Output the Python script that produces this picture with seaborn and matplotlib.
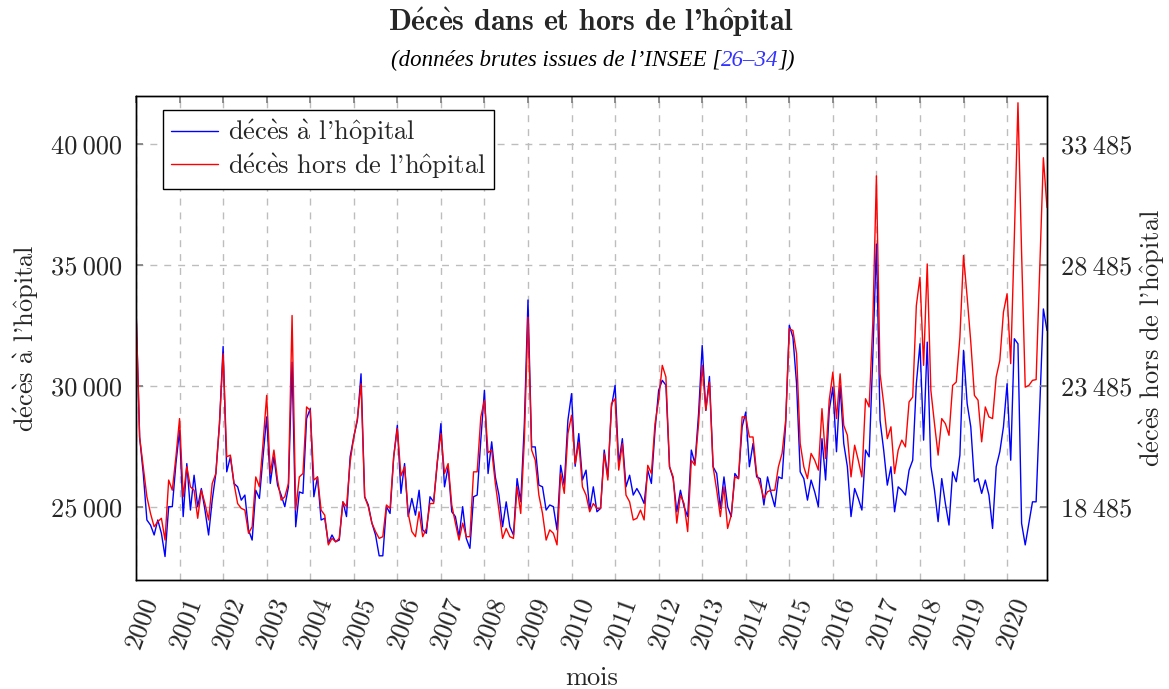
import numpy as np
import pandas as pd
import matplotlib
matplotlib.use("Agg")
import matplotlib.pyplot as plt
import matplotlib.ticker as mticker
import matplotlib.transforms as mtransforms
import seaborn as sns

# ── Data (monthly, Jan 2000 → Dec 2020) ──────────────────────────────────
years = list(range(2000, 2021))

deces_hopital = [
    33300, 27900, 26400, 24480, 24270, 23860, 24480, 23930, 22970, 25030, 25030, 26810,
    28190, 24620, 26810, 24890, 26330, 25030, 25780, 24890, 23860, 25300, 26400, 28460,
    31650, 26470, 27090, 25990, 25850, 25300, 25510, 24070, 23650, 25710, 25370, 27090,
    28740, 25990, 27090, 25920, 25510, 25030, 25850, 31000, 24200, 25640, 25580, 28670,
    29080, 25440, 26260, 24480, 24550, 23520, 23860, 23580, 23650, 25230, 24620, 27090,
    27910, 28600, 30520, 25440, 25100, 24350, 23860, 23000, 23000, 25030, 24750, 27090,
    28390, 25580, 26810, 24620, 25370, 24680, 25710, 24070, 23930, 25440, 25230, 26810,
    28460, 25850, 26680, 24820, 24620, 23790, 25030, 23720, 23310, 25440, 25510, 27780,
    29840, 26400, 27710, 26260, 25510, 24200, 25230, 24200, 23860, 26190, 25230, 28460,
    33570, 27500, 27500, 25920, 25850, 24890, 25100, 25030, 24070, 26740, 25920, 28600,
    29700, 26700, 28050, 26130, 26540, 24890, 25850, 24820, 24960, 27370, 26260, 29150,
    30040, 26810, 27840, 25850, 26330, 25510, 25780, 25510, 25160, 26540, 25990, 28190,
    29840, 30250, 30050, 26680, 26190, 24820, 25710, 25030, 24620, 27370, 26810, 28870,
    31690, 29010, 30410, 26680, 26400, 24960, 26260, 25030, 24620, 26400, 26190, 28330,
    28940, 26680, 27640, 26260, 26190, 25100, 26260, 25580, 25030, 26260, 26190, 28460,
    32520, 32030, 30110, 26470, 26190, 25300, 26130, 25640, 25030, 27840, 26130, 29010,
    29970, 27300, 30040, 27640, 26680, 24620, 25780, 25370, 24890, 27370, 27090, 31210,
    35880, 28600, 27370, 25920, 26680, 24820, 25850, 25710, 25510, 26540, 26950, 30110,
    31760, 27780, 31830, 26710, 25710, 24410, 26190, 25160, 24270, 26470, 26060, 27160,
    31490, 29290, 28330, 26060, 26190, 25580, 26130, 25510, 24130, 26680, 27300, 28330,
    30110, 26950, 31970, 31760, 24340, 23450, 24340, 25230, 25230, 29150, 33200, 32310,
]

deces_hors_hopital = [
    26785, 21385, 20165, 18925, 18235, 17685, 17895, 18035, 17135, 19615, 19195, 20575,
    22155, 18925, 20165, 19335, 19195, 18035, 19195, 18645, 17965, 19475, 19885, 21945,
    24835, 20575, 20645, 19475, 18645, 18445, 18375, 17415, 17685, 19745, 19335, 21125,
    23115, 19885, 20855, 19615, 18785, 18925, 19475, 26415, 18375, 19745, 19885, 22635,
    22495, 19615, 19745, 18375, 18165, 16935, 17205, 17065, 17205, 18715, 18515, 20365,
    21395, 22155, 23595, 18925, 18515, 17835, 17485, 17205, 17275, 18585, 18445, 20575,
    21745, 19785, 20165, 18235, 17485, 17275, 18305, 17275, 17615, 18645, 18645, 20365,
    21535, 19885, 20295, 18585, 17835, 17135, 17835, 17275, 17275, 19955, 19955, 22225,
    22915, 20745, 20855, 19475, 18375, 17205, 17615, 17275, 17205, 19335, 18235, 21265,
    26345, 20855, 20435, 18995, 18235, 17135, 17555, 17415, 16935, 19885, 19065, 21535,
    22295, 20285, 21165, 19335, 18995, 18305, 18645, 18445, 18445, 20715, 19615, 22775,
    22975, 20025, 21125, 18995, 18715, 17965, 18035, 18375, 17965, 20225, 19885, 21945,
    22915, 24355, 23875, 20165, 19745, 17835, 18995, 18645, 17485, 20435, 20225, 21945,
    24355, 22495, 23665, 20165, 19195, 18105, 19335, 17615, 18165, 19745, 19675, 22225,
    22225, 21395, 21395, 19885, 19405, 18855, 19135, 19195, 19195, 20165, 20715, 22085,
    25865, 25795, 24835, 21125, 20165, 19675, 20715, 20435, 20025, 22565, 20505, 22915,
    24075, 22155, 24005, 21875, 21465, 19745, 21055, 20435, 19745, 22975, 22635, 26075,
    32185, 24005, 22775, 21325, 21815, 19885, 20855, 21265, 20985, 22845, 23045, 26825,
    27995, 24355, 28545, 23325, 21945, 20645, 22155, 21945, 21465, 23525, 23665, 25515,
    28895, 27175, 25315, 23115, 22915, 21195, 22635, 22225, 22155, 23875, 24555, 26555,
    27315, 24425, 29645, 35205, 29000, 23455, 23525, 23735, 23765, 28405, 32935, 30875,
]

left_ticks = [25000, 30000, 35000, 40000]
right_ticks = [18485, 23485, 28485, 33485]

df = pd.DataFrame({
    "mois": np.arange(len(deces_hopital)),
    "hopital": deces_hopital,
    "hors": deces_hors_hopital,
})

sns.set_theme(style="white")
plt.rcParams["font.family"] = ["cmr10", "DejaVu Serif"]
plt.rcParams["mathtext.fontset"] = "cm"
plt.rcParams["axes.unicode_minus"] = False
plt.rcParams["axes.formatter.use_mathtext"] = True


def cm(s, font=r"\mathrm"):
    # cmr10 has no accented glyphs: build them with mathtext accents
    acc = {"é": r"\acute{e}", "è": r"\grave{e}", "à": r"\grave{a}", "ô": r"\hat{o}"}
    return "".join(f"${font}{{{acc[c]}}}$" if c in acc else c for c in s)


fig = plt.figure(figsize=(11.69, 6.89), dpi=100)
ax = fig.add_axes([136 / 1169, 109 / 689, 911 / 1169, 484 / 689])
ax2 = ax.twinx()

sns.lineplot(data=df, x="mois", y="hopital", ax=ax, color="#0000ff", lw=1.0,
             label=cm("décès à l'hôpital"), legend=False)
sns.lineplot(data=df, x="mois", y="hors", ax=ax2, color="#ff0000", lw=1.0,
             label=cm("décès hors de l'hôpital"), legend=False)

ax.set_xlim(0, len(deces_hopital) - 1)
ax.set_ylim(22000, 42000)
ax2.set_ylim(22000 - 6515, 42000 - 6515)

thin = mticker.FuncFormatter(lambda v, p: f"{int(round(v)):,}".replace(",", "\u2009"))
ax.set_yticks(left_ticks)
ax2.set_yticks(right_ticks)
ax.yaxis.set_major_formatter(thin)
ax2.yaxis.set_major_formatter(thin)

ax.grid(True, color="#bdbdbd", linestyle=(0, (5, 5)), linewidth=1.0)
for a in (ax, ax2):
    for s in a.spines.values():
        s.set_color("black")
        s.set_linewidth(1.0)
ax.tick_params(axis="both", direction="in", length=5, color="#808080",
               labelsize=19, top=True, pad=8)
ax.tick_params(axis="y", pad=10)
ax2.tick_params(axis="y", direction="in", length=5, color="#808080",
                labelsize=19, pad=10)

ax.set_xticks(range(0, 241, 12))
ax.set_xticklabels([str(y) for y in years], rotation=70, ha="right",
                   rotation_mode="anchor", va="center")
shift = mtransforms.ScaledTranslation(0.15, -0.07, fig.dpi_scale_trans)
for lab in ax.get_xticklabels():
    lab.set_transform(lab.get_transform() + shift)

ax.set_xlabel("mois", fontsize=19)
ax.set_ylabel(cm("décès à l'hôpital"), fontsize=19)
ax2.set_ylabel(cm("décès hors de l'hôpital"), fontsize=19)
ax.xaxis.set_label_coords(0.5, -0.178)
ax.yaxis.set_label_coords(-0.104, 0.5)
ax2.yaxis.set_label_coords(1.1, 0.5)

h1, l1 = ax.get_legend_handles_labels()
h2, l2 = ax2.get_legend_handles_labels()
leg = ax2.legend(h1 + h2, l1 + l2, loc="upper left", bbox_to_anchor=(0.0296, 0.971),
                 borderaxespad=0, fontsize=19, frameon=True, fancybox=False,
                 edgecolor="black", framealpha=1, handlelength=1.8,
                 borderpad=0.3, labelspacing=0.15, handletextpad=0.35)
leg.get_frame().set_linewidth(1.0)

# title and subtitle
fig.text(0.5056, 1 - 22 / 689, cm("Décès dans et hors de l'hôpital", r"\mathbf"),
         ha="center", va="center", fontsize=21.5, fontweight="bold",
         family=["cmb10", "DejaVu Serif"])

sub_parts = [("(données brutes issues de l’INSEE [", "black"),
             ("26–34", "#3333ff"), ("])", "black")]
renderer = fig.canvas.get_renderer()
texts = []
for s, c in sub_parts:
    t = fig.text(0, 1 - 60 / 689, s, ha="left", va="center", fontsize=16.5,
                 style="italic", color=c, family=["Liberation Serif"])
    texts.append(t)
widths = [t.get_window_extent(renderer).width for t in texts]
x = 593 - sum(widths) / 2
for t, w in zip(texts, widths):
    t.set_x(x / 1169)
    x += w

fig.savefig("out.png", dpi=100)
